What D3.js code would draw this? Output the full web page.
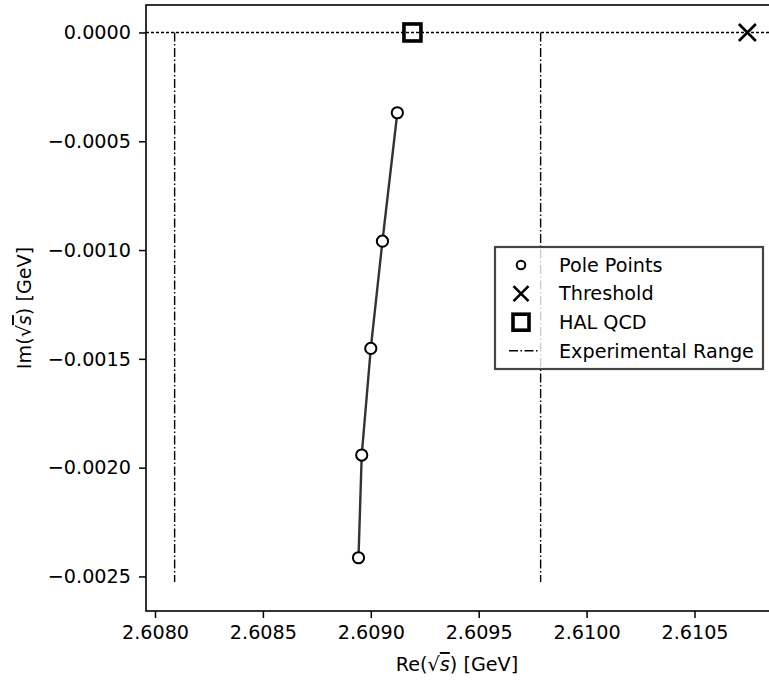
<!DOCTYPE html>
<html>
<head>
<meta charset="utf-8">
<script src="https://cdn.jsdelivr.net/npm/d3@7"></script>
<style>
  body { margin: 0; background: #fff; }
  svg { display: block; font-family: "DejaVu Sans", sans-serif; }
</style>
</head>
<body>
<svg id="chart" width="769" height="681"></svg>
<script>
// pole positions
const poleRe = [2.609123, 2.609054, 2.609000, 2.608958, 2.608943];
const poleIm = [-0.000369, -0.000959, -0.001452, -0.001942, -0.002414];

const thresholdRe = 2.610745;
const halQcdRe = 2.609193;

const expRange = [2.608091, 2.609787];
const expImSpan = [0, -0.002525];

const xTicks = [2.6080, 2.6085, 2.6090, 2.6095, 2.6100, 2.6105];
const yTicks = [0, -0.0005, -0.0010, -0.0015, -0.0020, -0.0025];

const legendLabels = ['Pole Points', 'Threshold', 'HAL QCD', 'Experimental Range'];

let svg = d3.select('#chart');

let paddingL = 146;
let paddingT = 5;
let plotW = 630;   // right edge runs past the window like the original crop
let plotH = 606;

let vis = svg.append('g')
  .attr('transform', `translate(${paddingL},${paddingT})`);

// matplotlib style 5% margins round the data
let xExt = [expRange[0], thresholdRe];
let yExt = [expImSpan[1], 0];
let xm = (xExt[1] - xExt[0]) * 0.05;
let ym = (yExt[1] - yExt[0]) * 0.05;

let x = d3.scaleLinear().domain([xExt[0] - xm, xExt[1] + xm]).range([0, plotW]);
let y = d3.scaleLinear().domain([yExt[0] - ym * 1.06, yExt[1] + ym]).range([plotH, 0]);

let fontSize = 19.2;

// axes
let xAxis = d3.axisBottom(x).tickValues(xTicks).tickFormat(d3.format('.4f'))
  .tickSizeInner(7).tickSizeOuter(0).tickPadding(7);
let yAxis = d3.axisLeft(y).tickValues(yTicks).tickFormat(d3.format('.4f'))
  .tickSizeInner(7).tickSizeOuter(0).tickPadding(8);

let gx = vis.append('g').attr('transform', `translate(0,${plotH})`).call(xAxis);
let gy = vis.append('g').call(yAxis);
[gx, gy].forEach(g => {
  g.select('.domain').remove();
  g.selectAll('line').attr('stroke', '#000').attr('stroke-width', 1.5);
  g.selectAll('text').attr('fill', '#000')
    .style('font-family', '"DejaVu Sans", sans-serif').style('font-size', fontSize + 'px');
});

// y = 0 dotted reference
vis.append('line')
  .attr('x1', 0).attr('x2', plotW)
  .attr('y1', y(0)).attr('y2', y(0))
  .attr('stroke', '#000').attr('stroke-width', 1.5)
  .attr('stroke-dasharray', '3,2');

// experimental range
vis.selectAll('.exp')
  .data(expRange)
  .enter().append('line')
  .attr('class', 'exp')
  .attr('x1', d => x(d)).attr('x2', d => x(d))
  .attr('y1', y(expImSpan[0])).attr('y2', y(expImSpan[1]))
  .attr('stroke', '#000').attr('stroke-width', 1.4)
  .attr('stroke-dasharray', '9,2.5,1.5,2.5');

// pole trajectory
let poles = poleRe.map((re, i) => ({ re: re, im: poleIm[i] }));

let valueline = d3.line()
  .x(d => x(d.re))
  .y(d => y(d.im));

vis.append('path')
  .datum(poles)
  .attr('fill', 'none')
  .attr('stroke', '#333')
  .attr('stroke-width', 2.4)
  .attr('d', valueline);

vis.selectAll('.pole')
  .data(poles)
  .enter().append('circle')
  .attr('class', 'pole')
  .attr('cx', d => x(d.re))
  .attr('cy', d => y(d.im))
  .attr('r', 5.6)
  .attr('fill', '#fff')
  .attr('stroke', '#000')
  .attr('stroke-width', 2);

// marker helpers
function squareMark(g, cx, cy, s, lw) {
  g.append('rect')
    .attr('x', cx - s / 2).attr('y', cy - s / 2)
    .attr('width', s).attr('height', s)
    .attr('fill', 'none').attr('stroke', '#000').attr('stroke-width', lw);
}
function crossMark(g, cx, cy, s, lw) {
  g.append('path')
    .attr('d', `M${cx - s / 2},${cy - s / 2}L${cx + s / 2},${cy + s / 2}M${cx - s / 2},${cy + s / 2}L${cx + s / 2},${cy - s / 2}`)
    .attr('stroke', '#000').attr('stroke-width', lw).attr('fill', 'none');
}
squareMark(vis, x(halQcdRe), y(0), 17, 3.6);
crossMark(vis, x(thresholdRe), y(0), 17, 2.6);

// spines (the right one is outside the window)
vis.append('rect')
  .attr('x', 0).attr('y', 0).attr('width', plotW).attr('height', plotH)
  .attr('fill', 'none').attr('stroke', '#000').attr('stroke-width', 1.6);

// axis labels
function sqrtLabel(sel, prefix) {
  sel.append('tspan').text(prefix + '(√');
  sel.append('tspan').text('s').style('font-style', 'italic')
    .style('text-decoration', 'overline');
  sel.append('tspan').text(') [GeV]');
}

let xl = svg.append('text')
  .attr('x', paddingL + 311).attr('y', 671)
  .attr('text-anchor', 'middle')
  .style('font-size', fontSize + 'px');
sqrtLabel(xl, 'Re');

let yl = svg.append('text')
  .attr('transform', `translate(31,${paddingT + plotH / 2}) rotate(-90)`)
  .attr('text-anchor', 'middle')
  .style('font-size', fontSize + 'px');
sqrtLabel(yl, 'Im');

// legend
let lg = svg.append('g').attr('transform', 'translate(495,247)');
lg.append('rect')
  .attr('width', 268).attr('height', 122)
  .attr('fill', '#fff').attr('fill-opacity', 0.8)
  .attr('stroke', '#444').attr('stroke-width', 2.2);

let rowY = i => 18 + i * 28.6;
let hx = 26;

lg.append('circle').attr('cx', hx).attr('cy', rowY(0)).attr('r', 4.3)
  .attr('fill', '#fff').attr('stroke', '#000').attr('stroke-width', 2);
crossMark(lg, hx, rowY(1), 15, 2.6);
squareMark(lg, hx, rowY(2), 16, 3.6);
lg.append('line')
  .attr('x1', 14).attr('x2', 44).attr('y1', rowY(3)).attr('y2', rowY(3))
  .attr('stroke', '#000').attr('stroke-width', 1.4)
  .attr('stroke-dasharray', '9,2.5,1.5,2.5');

lg.selectAll('.lab')
  .data(legendLabels)
  .enter().append('text')
  .attr('class', 'lab')
  .attr('x', 64)
  .attr('y', (d, i) => rowY(i))
  .attr('dy', '0.35em')
  .style('font-size', fontSize + 'px')
  .text(d => d);
</script>
</body>
</html>
